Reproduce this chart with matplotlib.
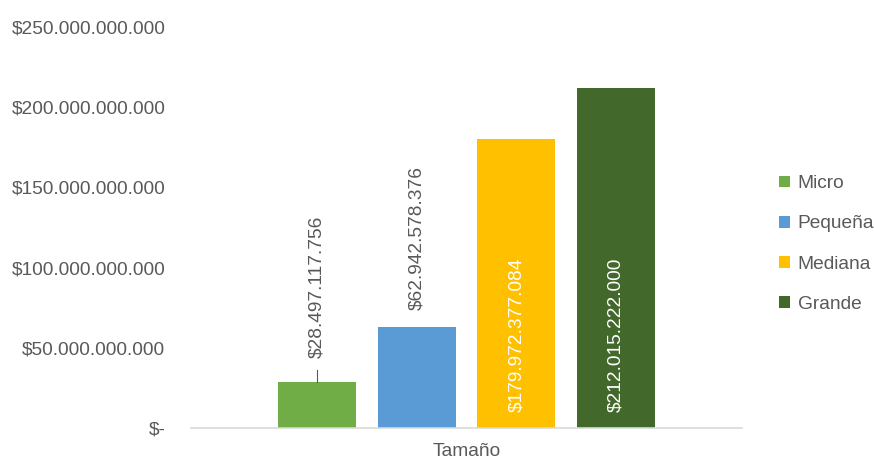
import numpy as np
import matplotlib.pyplot as plt
from matplotlib.ticker import FuncFormatter

plt.rcParams['font.family'] = ['Liberation Sans', 'DejaVu Sans']

# Data
categorias = ['Micro', 'Pequeña', 'Mediana', 'Grande']
valores = [28497117756, 62942578376, 179972377084, 212015222000]
colores = ['#70AD47', '#5B9BD5', '#FFC000', '#43682B']
etiquetas = ['$28.497.117.756', '$62.942.578.376', '$179.972.377.084', '$212.015.222.000']
grupo = 'Tamaño'

gris = '#595959'
fs = 13.8

fig = plt.figure(figsize=(8.74, 4.63), dpi=100)
ax = fig.add_axes([191 / 874, 1 - 428 / 463, (742 - 191) / 874, (428 - 27) / 463])

x = np.arange(len(categorias))
barras = ax.bar(x, valores, width=0.78, color=colores, label=categorias, zorder=2)

ax.set_xlim(-1.26, 4.26)
ax.set_ylim(0, 250e9)


def fmt(v, pos):
    if v == 0:
        return '$-'
    return '$' + f'{int(v):,}'.replace(',', '.')


ax.yaxis.set_major_formatter(FuncFormatter(fmt))
ax.set_yticks(np.arange(0, 250e9 + 1, 50e9))
ax.tick_params(axis='y', length=0, pad=18.5, labelsize=fs, labelcolor=gris)
ax.set_xticks([])
ax.set_xlabel(grupo, fontsize=fs, color=gris, labelpad=11)

for lado in ['top', 'right', 'left']:
    ax.spines[lado].set_visible(False)
ax.spines['bottom'].set_color('#D9D9D9')
ax.spines['bottom'].set_linewidth(1.2)

# Labels: first two above the bar, last two inside from the base
ax.plot([x[0], x[0]], [valores[0], valores[0] + 7.5e9], color=gris, lw=0.8, zorder=3)
ax.text(x[0], valores[0] + 15e9, etiquetas[0], rotation=90, ha='center', va='bottom',
        fontsize=fs, color=gris)
ax.text(x[1], valores[1] + 10.5e9, etiquetas[1], rotation=90, ha='center', va='bottom',
        fontsize=fs, color=gris)
for i in [2, 3]:
    ax.text(x[i], 10e9, etiquetas[i], rotation=90, ha='center', va='bottom',
            fontsize=fs, color='white')

leg = fig.legend(handles=barras, labels=categorias, loc='center left',
                 bbox_to_anchor=(779 / 874, 1 - 244 / 463), frameon=False,
                 fontsize=fs, handlelength=0.57, handleheight=0.57,
                 labelspacing=1.21, handletextpad=0.4, borderpad=0, borderaxespad=0)
for t in leg.get_texts():
    t.set_color(gris)

fig.savefig('out.png', dpi=100)
